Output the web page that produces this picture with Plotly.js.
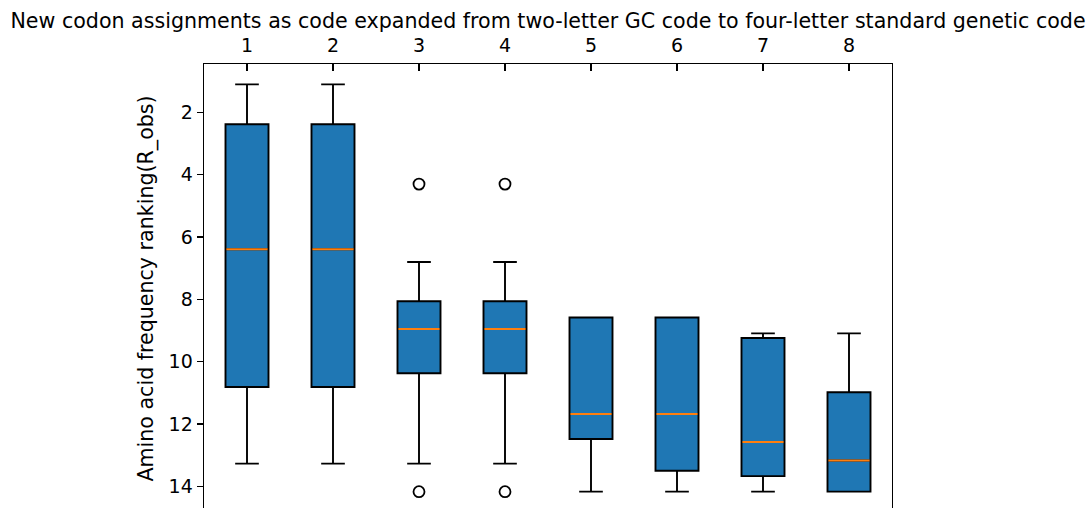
<!DOCTYPE html>
<html>
<head>
<meta charset="utf-8">
<script src="https://cdn.plot.ly/plotly-3.0.1.min.js"></script>
<style>
html,body{margin:0;padding:0;overflow:hidden;background:#fff;}
#chart{width:1091px;height:520px;}
</style>
</head>
<body>
<div id="chart"></div>
<script>
// Data (rank values; axis inverted)
const positions = [1, 2, 3, 4, 5, 6, 7, 8];
const tickLabels = ['1', '2', '3', '4', '5', '6', '7', '8'];
const whiskerLow = [1.10, 1.10, 6.80, 6.80, 8.58, 8.58, 9.09, 9.09];
const q1 = [2.38, 2.38, 8.06, 8.06, 8.58, 8.58, 9.24, 10.98];
const medians = [6.39, 6.39, 8.95, 8.95, 11.68, 11.68, 12.58, 13.17];
const q3 = [10.81, 10.81, 10.37, 10.37, 12.48, 13.50, 13.67, 14.17];
const whiskerHigh = [13.27, 13.27, 13.27, 13.27, 14.17, 14.17, 14.17, 14.17];
const outlierPos = [3, 3, 4, 4];
const outlierVals = [4.30, 14.17, 4.30, 14.17];

const boxWidth = 0.5;
const font = 'DejaVu Sans, sans-serif';

const boxTrace = {
  type: 'box',
  x: positions,
  q1: q1,
  median: medians,
  q3: q3,
  lowerfence: whiskerLow,
  upperfence: whiskerHigh,
  width: boxWidth,
  whiskerwidth: 0.55,
  fillcolor: '#1f77b4',
  line: {color: '#000000', width: 1.9},
  boxpoints: false,
  hoverinfo: 'skip',
  showlegend: false
};

// median lines (orange), built from the arrays
const mx = [], my = [];
positions.forEach((p, i) => {
  mx.push(p - boxWidth / 2 + 0.01, p + boxWidth / 2 - 0.01, null);
  my.push(medians[i], medians[i], null);
});
const medianTrace = {
  type: 'scatter', mode: 'lines', x: mx, y: my,
  line: {color: '#ff7f0e', width: 2},
  hoverinfo: 'skip', showlegend: false
};

const outlierTrace = {
  type: 'scatter', mode: 'markers', x: outlierPos, y: outlierVals,
  marker: {symbol: 'circle-open', size: 11, color: '#000000', line: {width: 1.8, color: '#000000'}},
  hoverinfo: 'skip', showlegend: false
};

const layout = {
  width: 1091, height: 520,
  margin: {l: 204, r: 199, t: 64, b: 7},
  paper_bgcolor: '#ffffff', plot_bgcolor: '#ffffff',
  font: {family: font, size: 19, color: '#000000'},
  title: {
    text: 'New codon assignments as code expanded from two-letter GC code to four-letter standard genetic code',
    font: {family: font, size: 20.6, color: '#000000'},
    x: 0.5, xref: 'paper', xanchor: 'center',
    y: 1 - 21 / 520, yref: 'container', yanchor: 'middle'
  },
  xaxis: {
    side: 'top', range: [0.5, 8.5], autorange: false,
    tickmode: 'array', tickvals: positions, ticktext: tickLabels,
    ticks: 'inside', ticklen: 7, tickwidth: 1.4, tickcolor: '#000',
    ticklabelstandoff: 3,
    showline: true, mirror: true, linecolor: '#000', linewidth: 1.4,
    showgrid: false, zeroline: false,
    tickfont: {family: font, size: 19, color: '#000'}
  },
  yaxis: {
    range: [14.855, 0.445], autorange: false,
    tickmode: 'array', tickvals: [2, 4, 6, 8, 10, 12, 14],
    ticks: 'outside', ticklen: 6, tickwidth: 1.4, tickcolor: '#000',
    showline: true, mirror: true, linecolor: '#000', linewidth: 1.4,
    showgrid: false, zeroline: false,
    tickfont: {family: font, size: 19, color: '#000'},
    title: {text: 'Amino acid frequency ranking(R_obs)', font: {family: font, size: 20.6, color: '#000'}, standoff: 9}
  }
};

Plotly.newPlot('chart', [boxTrace, medianTrace, outlierTrace], layout, {displayModeBar: false, staticPlot: true});
</script>
</body>
</html>
